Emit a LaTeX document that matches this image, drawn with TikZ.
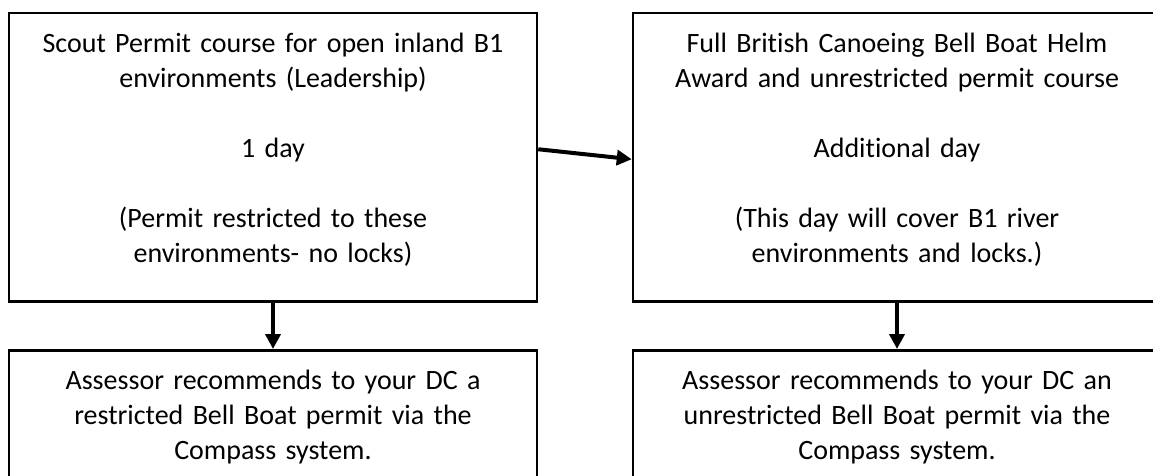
\documentclass[tikz,border=0pt]{standalone}
\usepackage{fontspec}
\setmainfont{Carlito}[Ligatures=NoCommon]
\usepackage{tikz}
\usetikzlibrary{arrows.meta}

\tikzset{
  stagebox/.style={draw, line width=2.5pt, align=center, text width=500pt, inner xsep=14pt, inner ysep=0pt, text height=39.5pt, font=\fontsize{28pt}{35pt}\selectfont},
  flow/.style={line width=4pt, -{Triangle[length=15pt,width=15pt]}}
}

\begin{document}
\begin{tikzpicture}[x=1pt, y=-1pt]
\useasboundingbox[fill=white] (0,0) rectangle (1153,476);

\node[stagebox, text depth=248.5pt, anchor=north] (scoutcourse) at (273,12) {Scout Permit course for open inland B1\\ environments (Leadership)\\[35pt] 1 day\\[35pt] (Permit restricted to these\\ environments- no locks)};
\node[stagebox, text depth=248.5pt, anchor=north] (helmcourse) at (897,12) {Full British Canoeing Bell Boat Helm\\ Award and unrestricted permit course\\[35pt] Additional day\\[35pt] (This day will cover B1 river\\ environments and locks.)};

\node[stagebox, text depth=120pt, anchor=north] (restrictedpermit) at (273,349) {Assessor recommends to your DC a\\ restricted Bell Boat permit via the\\ Compass system.};
\node[stagebox, text depth=120pt, anchor=north] (fullpermit) at (897,349) {Assessor recommends to your DC an\\ unrestricted Bell Boat permit via the\\ Compass system.};

\draw[flow] ([yshift=8pt]scoutcourse.east) -- ([yshift=-2pt]helmcourse.west);
\draw[flow] (scoutcourse.south) -- (restrictedpermit.north);
\draw[flow] (helmcourse.south) -- (fullpermit.north);

\end{tikzpicture}
\end{document}
